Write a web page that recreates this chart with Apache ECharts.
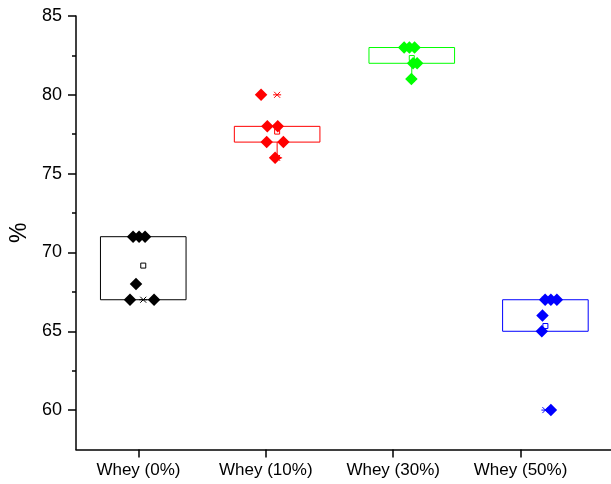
<!DOCTYPE html>
<html>
<head>
<meta charset="utf-8">
<script src="https://cdn.jsdelivr.net/npm/echarts@6/dist/echarts.min.js"></script>
<style>html,body{margin:0;padding:0;background:#fff;}#c{width:611px;height:484px;}</style>
</head>
<body>
<div id="c"></div>
<script>
// ---- data ----
var categories = ['Whey (0%)', 'Whey (10%)', 'Whey (30%)', 'Whey (50%)'];
var categoryTicks = [1, 2, 3, 4];
var yTicks = [60, 65, 70, 75, 80, 85];
var yMinorTicks = [62.5, 67.5, 72.5, 77.5, 82.5];
var colors = ['#000000', '#ff0000', '#00ff00', '#0000ff'];
// box centre positions on the x scale (Origin draws them slightly offset from ticks)
var boxPos = [1.038, 2.089, 3.146, 4.195];
// individual values (y) and their jittered x positions
var whey0Y = [71, 71, 71, 68, 67, 67];
var whey0X = [0.958, 1.005, 1.052, 0.981, 0.934, 1.123];
var whey10Y = [80, 78, 78, 77, 77, 76];
var whey10X = [1.963, 2.012, 2.094, 2.007, 2.138, 2.073];
var whey30Y = [83, 83, 83, 82, 82, 81];
var whey30X = [3.086, 3.127, 3.168, 3.156, 3.188, 3.143];
var whey50Y = [67, 67, 67, 66, 65, 60];
var whey50X = [4.193, 4.238, 4.285, 4.172, 4.167, 4.238];
// box statistics
var q1 = [67, 77, 82, 65];
var q3 = [71, 78, 83, 67];
var whiskerLow = [67, 76, 81, 65];
var whiskerHigh = [71, 78, 83, 67];

var groupsY = [whey0Y, whey10Y, whey30Y, whey50Y];
var groupsX = [whey0X, whey10X, whey30X, whey50X];

var boxData = categories.map(function (c, i) {
  var ys = groupsY[i];
  return [boxPos[i], q1[i], q3[i], whiskerLow[i], whiskerHigh[i], Math.min.apply(null, ys), Math.max.apply(null, ys), i];
});
var meanData = categories.map(function (c, i) {
  var ys = groupsY[i];
  var s = 0; ys.forEach(function (v) { s += v; });
  return { value: [boxPos[i], s / ys.length], itemStyle: { borderColor: colors[i] } };
});

var HALF_W = 0.336;

function renderBox(params, api) {
  var x = api.value(0), lo = api.value(1), hi = api.value(2);
  var wl = api.value(3), wh = api.value(4), mn = api.value(5), mx = api.value(6);
  var col = colors[api.value(7)];
  var p1 = api.coord([x - HALF_W, hi]);
  var p2 = api.coord([x + HALF_W, lo]);
  var c = api.coord([x, 0]);
  var children = [];
  children.push({ type: 'rect', shape: { x: p1[0], y: p1[1], width: p2[0] - p1[0], height: p2[1] - p1[1] },
    style: { fill: 'none', stroke: col, lineWidth: 1 } });
  var yq1 = api.coord([x, lo])[1], yq3 = api.coord([x, hi])[1];
  var ywl = api.coord([x, wl])[1], ywh = api.coord([x, wh])[1];
  if (ywl > yq1 + 0.5) {
    children.push({ type: 'line', shape: { x1: c[0], y1: yq1, x2: c[0], y2: ywl }, style: { stroke: col, lineWidth: 1 } });
    children.push({ type: 'line', shape: { x1: c[0] - 5, y1: ywl, x2: c[0] + 5, y2: ywl }, style: { stroke: col, lineWidth: 1 } });
  }
  if (ywh < yq3 - 0.5) {
    children.push({ type: 'line', shape: { x1: c[0], y1: yq3, x2: c[0], y2: ywh }, style: { stroke: col, lineWidth: 1 } });
    children.push({ type: 'line', shape: { x1: c[0] - 5, y1: ywh, x2: c[0] + 5, y2: ywh }, style: { stroke: col, lineWidth: 1 } });
  }
  [mn, mx].forEach(function (v) {
    var yy = api.coord([x, v])[1];
    var s = 3;
    children.push({ type: 'line', shape: { x1: c[0] - s, y1: yy - s, x2: c[0] + s, y2: yy + s }, style: { stroke: col, lineWidth: 1 } });
    children.push({ type: 'line', shape: { x1: c[0] - s, y1: yy + s, x2: c[0] + s, y2: yy - s }, style: { stroke: col, lineWidth: 1 } });
    children.push({ type: 'line', shape: { x1: c[0] - 4, y1: yy, x2: c[0] + 4, y2: yy }, style: { stroke: col, lineWidth: 1 } });
  });
  return { type: 'group', children: children };
}

var series = [{
  type: 'custom', renderItem: renderBox, data: boxData, silent: true, animation: false,
  encode: { x: 0, y: [1, 2, 3, 4, 5, 6] }, z: 2
}, {
  type: 'scatter', data: meanData, symbol: 'rect', symbolSize: 5, animation: false, z: 3,
  itemStyle: { color: '#ffffff', borderWidth: 1, opacity: 1 }
}];
groupsY.forEach(function (ys, i) {
  series.push({
    type: 'scatter', symbol: 'diamond', symbolSize: 12.5, animation: false, z: 4,
    itemStyle: { color: colors[i], opacity: 1 },
    data: ys.map(function (v, k) { return [groupsX[i][k], v]; })
  });
});

var chart = echarts.init(document.getElementById('c'), null, { renderer: 'canvas' });
chart.setOption({
  animation: false,
  backgroundColor: '#ffffff',
  grid: { left: 76, right: 0, top: 16, bottom: 34.5, containLabel: false, outerBoundsMode: 'none' },
  xAxis: {
    type: 'value', min: 0.51, max: 4.71,
    splitLine: { show: false },
    axisLine: { show: true, onZero: false, lineStyle: { color: '#000', width: 1.5 } },
    axisTick: { show: true, customValues: categoryTicks, length: 8, lineStyle: { color: '#000', width: 1.5 } },
    axisLabel: { customValues: categoryTicks, margin: 12, fontSize: 17, color: '#000', fontFamily: 'Liberation Sans, Arial, sans-serif',
      formatter: function (v) { return categories[Math.round(v) - 1] || ''; } }
  },
  yAxis: [{
    type: 'value', min: 57.5, max: 85,
    name: '%', nameLocation: 'middle', nameGap: 40, nameRotate: 90,
    nameTextStyle: { fontSize: 23, color: '#000', fontFamily: 'Liberation Sans, Arial, sans-serif' },
    splitLine: { show: false },
    axisLine: { show: true, onZero: false, lineStyle: { color: '#000', width: 1.5 } },
    axisTick: { show: true, customValues: yTicks, length: 8, lineStyle: { color: '#000', width: 1.5 } },
    axisLabel: { customValues: yTicks, margin: 14, fontSize: 18, color: '#000', fontFamily: 'Liberation Sans, Arial, sans-serif' }
  }, {
    type: 'value', min: 57.5, max: 85, position: 'left', offset: 0,
    splitLine: { show: false },
    axisLine: { show: false },
    axisTick: { show: true, customValues: yMinorTicks, length: 4, lineStyle: { color: '#000', width: 1.5 } },
    axisLabel: { show: false }
  }],
  series: series
});
</script>
</body>
</html>
